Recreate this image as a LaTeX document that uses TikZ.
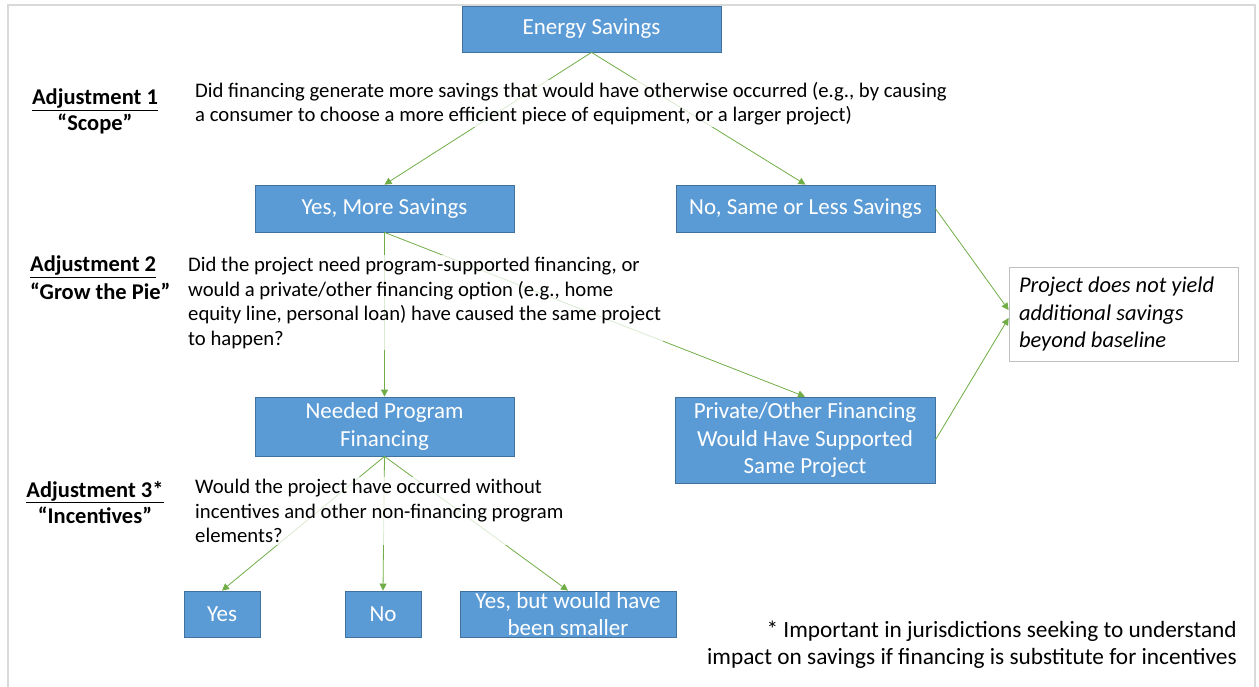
\documentclass[tikz,border=0pt]{standalone}
\usepackage{fontspec}
\setmainfont{Carlito}
\usetikzlibrary{arrows.meta}
\definecolor{boxblue}{HTML}{5B9BD5}
\definecolor{boxedge}{HTML}{41719C}
\definecolor{arrowgreen}{HTML}{70AD47}
\definecolor{framegray}{HTML}{D9D9D9}
\definecolor{projedge}{HTML}{BFBFBF}
\begin{document}
\begin{tikzpicture}[x=1pt,y=-1pt,
  box/.style={draw=boxedge, line width=0.8pt, fill=boxblue, text=white, align=center,
    inner sep=0pt, font=\fontsize{23}{27.5}\selectfont},
  conn/.style={draw=arrowgreen, line width=0.8pt, -{Triangle[length=7pt,width=7pt]}},
  question/.style={anchor=north west, align=left, inner sep=2pt, fill=white,
    fill opacity=0.75, text opacity=1, font=\fontsize{20.7}{24.5}\selectfont},
  adjlabel/.style={inner sep=0pt, font=\bfseries\fontsize{22.5}{26}\selectfont},
  note/.style={anchor=north east, align=right, inner sep=0pt, font=\fontsize{23.3}{27}\selectfont}
]
\useasboundingbox (0,0) rectangle (1259,686);
\clip (0,0) rectangle (1259,686);
\draw[framegray, line width=2.5pt] (8,700) -- (8,5) -- (1255,5) -- (1255,700);

% boxes
\node[box, minimum width=259pt, minimum height=46pt] (es) at (591.5,29) {Energy Savings};
\node[box, minimum width=259pt, minimum height=47pt] (yes1) at (384.5,208.5) {Yes, More Savings};
\node[box, minimum width=259pt, minimum height=47pt] (no1) at (805.5,208.5) {No, Same or Less Savings};
\node[box, minimum width=259pt, minimum height=59pt] (need) at (384.5,426.5) {Needed Program\\Financing};
\node[box, minimum width=260pt, minimum height=86pt] (priv) at (805,440) {Private/Other Financing\\Would Have Supported\\Same Project};
\node[draw=projedge, line width=0.8pt, minimum width=229pt, minimum height=94pt,
  text width=209pt, inner xsep=10pt, inner ysep=0pt, align=flush left,
  font=\itshape\fontsize{22.5}{27.5}\selectfont]
  (proj) at (1123.5,314) {Project does not yield\\additional savings\\beyond baseline};
\node[box, minimum width=76pt, minimum height=46pt] (yesB) at (222,614) {Yes};
\node[box, minimum width=76pt, minimum height=46pt] (noB) at (383,614) {No};
\node[box, minimum width=216pt, minimum height=46pt] (butB) at (568,614) {Yes, but would have\\been smaller};

% connectors
\draw[conn] (es.south) -- (yes1.north);
\draw[conn] (es.south) -- (no1.north);
\draw[conn] (no1.east) -- ([yshift=4pt]proj.west);
\draw[conn] (priv.east) -- ([yshift=-4pt]proj.west);
\draw[conn] (yes1.south) -- (need.north);
\draw[conn] (yes1.south) -- (priv.north);
\draw[conn] (need.south) -- (yesB.north);
\draw[conn] (need.south) -- (noB.north);
\draw[conn] (need.south) -- (butB.north);

% questions
\node[question] (q1) at (193,80) {Did financing generate more savings that would have otherwise occurred (e.g., by causing\\a consumer to choose a more efficient piece of equipment, or a larger project)};
\node[question] (q2) at (186,255) {Did the project need program-supported financing, or\\would a private/other financing option (e.g., home\\equity line, personal loan) have caused the same project\\to happen?};
\node[question] (q3) at (193,477) {Would the project have occurred without\\incentives and other non-financing program\\elements?};

% adjustment labels
\node[adjlabel, anchor=north, align=center] (a1) at (95,89) {\underline{Adjustment 1}\\“Scope”};
\node[adjlabel, anchor=north west, align=left] (a2) at (30,256) {\underline{Adjustment 2}\\[2pt]“Grow the Pie”};
\node[adjlabel, anchor=north, align=center] (a3) at (95,481) {\underline{Adjustment 3*}\\“Incentives”};

% footnote
\node[note] (fn) at (1237,621) {* Important in jurisdictions seeking to understand\\impact on savings if financing is substitute for incentives};
\end{tikzpicture}
\end{document}
